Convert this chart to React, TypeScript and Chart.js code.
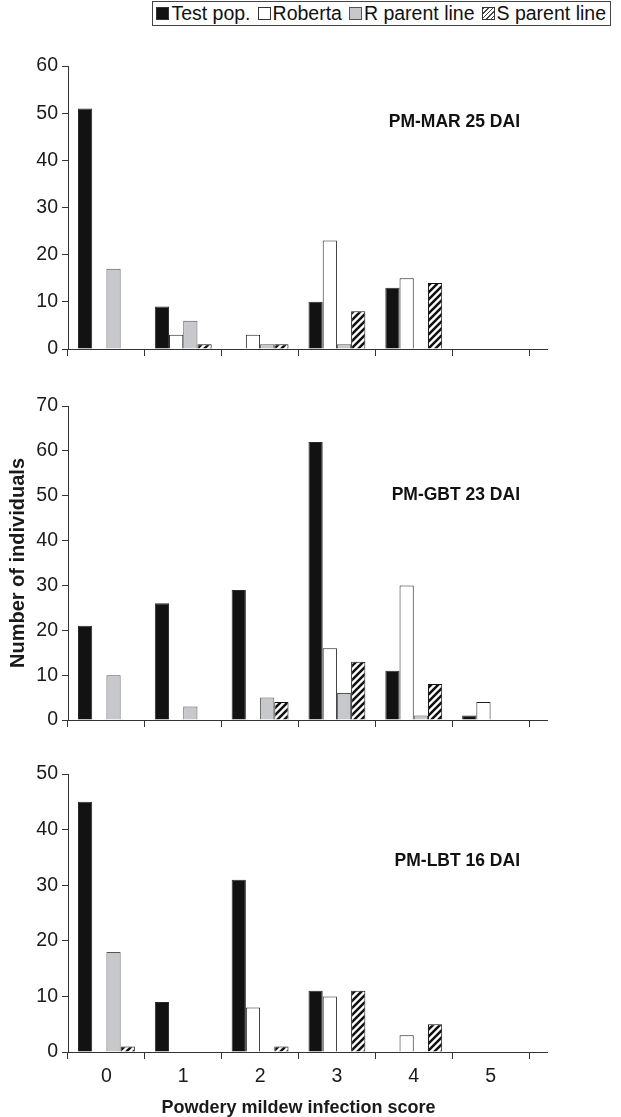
import React, { useEffect, useRef } from "react";
import { Chart, registerables } from "chart.js";

Chart.register(...registerables);

// ---------- data ----------
const categories = ["0", "1", "2", "3", "4", "5"];
const seriesNames = ["Test pop.", "Roberta", "R parent line", "S parent line"];

// PM-MAR 25 DAI
const marTest = [51, 9, 0, 10, 13, 0];
const marRoberta = [0, 3, 3, 23, 15, 0];
const marRParent = [17, 6, 1, 1, 0, 0];
const marSParent = [0, 1, 1, 8, 14, 0];

// PM-GBT 23 DAI
const gbtTest = [21, 26, 29, 62, 11, 1];
const gbtRoberta = [0, 0, 0, 16, 30, 4];
const gbtRParent = [10, 3, 5, 6, 1, 0];
const gbtSParent = [0, 0, 4, 13, 8, 0];

// PM-LBT 16 DAI
const lbtTest = [45, 9, 31, 11, 0, 0];
const lbtRoberta = [0, 0, 8, 10, 3, 0];
const lbtRParent = [18, 0, 0, 0, 0, 0];
const lbtSParent = [1, 0, 1, 11, 5, 0];

const panelTitles = ["PM-MAR 25 DAI", "PM-GBT 23 DAI", "PM-LBT 16 DAI"];
const yMaxes = [60, 70, 50];
const yStep = 10;
const yAxisTitle = "Number of individuals";
const xAxisTitle = "Powdery mildew infection score";

const FONT = "'Liberation Sans', Arial, Helvetica, sans-serif";
const CANVAS_W = 621;
const PLOT_RIGHT = 529;
const AXIS_EXT = 548;

function makeHatch(): CanvasPattern | string {
  const s = 7;
  const c = document.createElement("canvas");
  c.width = s;
  c.height = s;
  const ctx = c.getContext("2d");
  if (!ctx) return "#888";
  ctx.fillStyle = "#ffffff";
  ctx.fillRect(0, 0, s, s);
  ctx.strokeStyle = "#111111";
  ctx.lineWidth = 2.5;
  ctx.beginPath();
  ctx.moveTo(-1, 1);
  ctx.lineTo(1, -1);
  ctx.moveTo(0, s);
  ctx.lineTo(s, 0);
  ctx.moveTo(s - 1, s + 1);
  ctx.lineTo(s + 1, s - 1);
  ctx.stroke();
  const p = ctx.createPattern(c, "repeat");
  return p || "#888";
}

const panelDecorPlugin = {
  id: "panelDecor",
  afterDraw(chart: any, _args: any, opts: any) {
    const ctx = chart.ctx;
    const area = chart.chartArea;
    ctx.save();
    // extension of the x-axis line beyond the last category
    ctx.strokeStyle = "#333";
    ctx.lineWidth = 1;
    ctx.beginPath();
    const y = Math.round(area.bottom) + 0.5;
    ctx.moveTo(area.right, y);
    ctx.lineTo(opts.extendTo, y);
    ctx.stroke();
    // panel title
    if (opts.text) {
      ctx.font = `bold 17.5px ${FONT}`;
      ctx.fillStyle = "#111";
      ctx.textAlign = "right";
      ctx.textBaseline = "middle";
      ctx.fillText(opts.text, opts.x, opts.y);
    }
    ctx.restore();
  },
};

type PanelProps = {
  values: number[][];
  title: string;
  titleY: number;
  yMax: number;
  padTop: number;
  xHeight: number;
  height: number;
  top: number;
  showXLabels: boolean;
  showYTitle: boolean;
};

function Panel(p: PanelProps) {
  const ref = useRef<HTMLCanvasElement | null>(null);
  useEffect(() => {
    if (!ref.current) return;
    const hatch = makeHatch();
    const styles = [
      { backgroundColor: "#121212", borderColor: "#2a2a2a" },
      { backgroundColor: "#ffffff", borderColor: "#222222" },
      { backgroundColor: "#c6c8cc", borderColor: "#555555" },
      { backgroundColor: hatch, borderColor: "#111111" },
    ];
    const chart = new Chart(ref.current, {
      type: "bar",
      data: {
        labels: categories,
        datasets: p.values.map((v, i) => ({
          label: seriesNames[i],
          data: v,
          backgroundColor: styles[i].backgroundColor as any,
          borderColor: styles[i].borderColor,
          borderWidth: 1,
          categoryPercentage: 0.74,
          barPercentage: 1,
        })),
      },
      options: {
        animation: false,
        responsive: false,
        layout: { padding: { top: p.padTop, left: 0, right: CANVAS_W - PLOT_RIGHT, bottom: 0 } },
        plugins: {
          legend: { display: false },
          tooltip: { enabled: false },
          panelDecor: { text: p.title, x: 520, y: p.titleY, extendTo: AXIS_EXT },
        } as any,
        scales: {
          x: {
            type: "category",
            offset: true,
            grid: {
              offset: true,
              drawOnChartArea: false,
              drawTicks: true,
              tickLength: 7,
              color: "#333",
              lineWidth: 1,
            },
            border: { display: true, color: "#333", width: 1 },
            ticks: {
              display: p.showXLabels,
              font: { family: FONT, size: 19.5 },
              color: "#1a1a1a",
              padding: 6,
              maxRotation: 0,
            },
            title: {
              display: p.showXLabels,
              text: xAxisTitle,
              font: { family: FONT, size: 18, weight: "bold", lineHeight: 1 },
              color: "#1a1a1a",
              padding: { top: 0, bottom: 0 },
            },
            afterFit: (s: any) => {
              s.height = p.xHeight;
            },
          },
          y: {
            min: 0,
            max: p.yMax,
            ticks: {
              stepSize: yStep,
              font: { family: FONT, size: 19.5 },
              color: "#1a1a1a",
              padding: 4,
            },
            grid: {
              drawOnChartArea: false,
              drawTicks: true,
              tickLength: 6,
              color: "#333",
              lineWidth: 1,
            },
            border: { display: true, color: "#333", width: 1 },
            title: {
              display: p.showYTitle,
              text: yAxisTitle,
              font: { family: FONT, size: 20, weight: "bold", lineHeight: 1 },
              color: "#1a1a1a",
              padding: { top: 8, bottom: 0 },
            },
            afterFit: (s: any) => {
              s.width = 68;
            },
          },
        },
      },
      plugins: [panelDecorPlugin as any],
    });
    return () => chart.destroy();
  }, []);
  return (
    <canvas
      ref={ref}
      width={CANVAS_W}
      height={p.height}
      style={{ position: "absolute", left: 0, top: p.top, width: CANVAS_W, height: p.height, display: "block" }}
    />
  );
}

const swatchBase: React.CSSProperties = {
  display: "inline-block",
  width: 13,
  height: 13,
  boxSizing: "border-box",
  border: "1px solid #333",
  marginRight: 2,
};

function Legend() {
  const swatches: React.CSSProperties[] = [
    { background: "#121212" },
    { background: "#ffffff" },
    { background: "#c6c8cc", borderColor: "#555" },
    {
      background:
        "repeating-linear-gradient(135deg, #444 0px, #444 1.2px, #fff 1.2px, #fff 3.2px)",
    },
  ];
  return (
    <div
      style={{
        position: "absolute",
        top: 1,
        right: 10,
        border: "1px solid #444",
        display: "flex",
        alignItems: "center",
        height: 23,
        padding: "0 4px 0 3px",
        fontFamily: FONT,
        fontSize: 19.5,
        color: "#111",
        whiteSpace: "nowrap",
        background: "#fff",
      }}
    >
      {seriesNames.map((n, i) => (
        <span key={n} style={{ display: "flex", alignItems: "center", marginRight: i < 3 ? 7 : 0 }}>
          <span style={{ ...swatchBase, ...swatches[i] }} />
          <span>{n}</span>
        </span>
      ))}
    </div>
  );
}

export default function App() {
  return (
    <div
      style={{
        position: "absolute",
        left: 0,
        top: 0,
        width: 621,
        height: 1117,
        overflow: "hidden",
        background: "#fff",
      }}
    >
      <Panel
        values={[marTest, marRoberta, marRParent, marSParent]}
        title={panelTitles[0]}
        titleY={122}
        yMax={yMaxes[0]}
        padTop={66}
        xHeight={20}
        height={369}
        top={0}
        showXLabels={false}
        showYTitle={false}
      />
      <Panel
        values={[gbtTest, gbtRoberta, gbtRParent, gbtSParent]}
        title={panelTitles[1]}
        titleY={135}
        yMax={yMaxes[1]}
        padTop={46}
        xHeight={20}
        height={380}
        top={360}
        showXLabels={false}
        showYTitle={true}
      />
      <Panel
        values={[lbtTest, lbtRoberta, lbtRParent, lbtSParent]}
        title={panelTitles[2]}
        titleY={131}
        yMax={yMaxes[2]}
        padTop={44}
        xHeight={65}
        height={387}
        top={730}
        showXLabels={true}
        showYTitle={false}
      />
      <Legend />
    </div>
  );
}
